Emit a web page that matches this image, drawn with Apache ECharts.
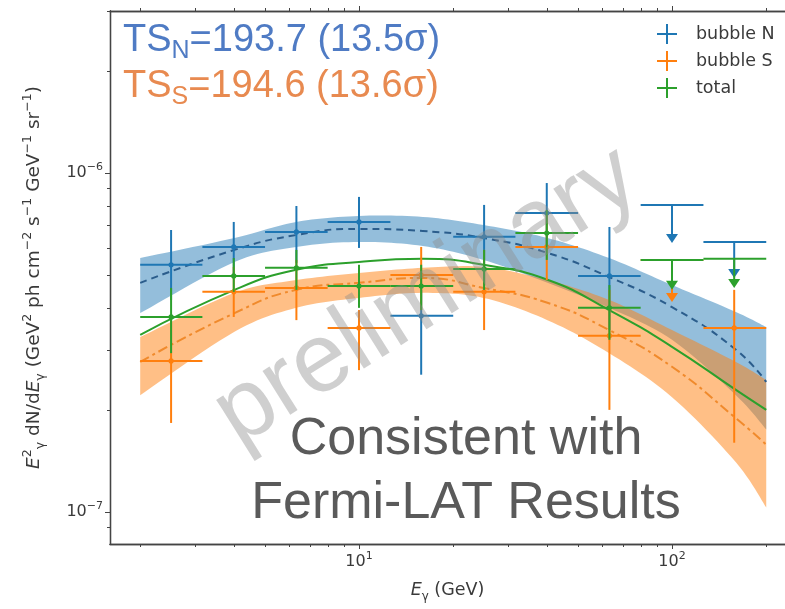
<!DOCTYPE html>
<html><head><meta charset="utf-8">
<script src="https://cdn.jsdelivr.net/npm/echarts@6/dist/echarts.min.js"></script>
<style>html,body{margin:0;padding:0;background:#fff}#c{width:785px;height:609px}</style>
</head><body><div id="c"></div>
<script>
// ---- energy bins (GeV) ----
const binCenter = [2.51, 3.98, 6.31, 10, 15.8, 25.1, 39.8, 63.1, 100, 158];
const binLo     = [2, 3.16, 5.01, 7.94, 12.6, 20, 31.6, 50.1, 79.4, 126];
const binHi     = [3.16, 5.01, 7.94, 12.6, 20, 31.6, 50.1, 79.4, 126, 200];

// ---- bubble N ----
const nFlux  = [5.36e-7, 6.05e-7, 6.70e-7, 7.17e-7, 3.79e-7, 6.48e-7, 7.62e-7, 4.97e-7, 8.05e-7, 6.26e-7];
const nErrLo = [4.22e-7, 4.93e-7, 5.43e-7, 6.01e-7, 2.54e-7, 4.67e-7, 5.73e-7, 3.44e-7, null, null];
const nErrHi = [6.79e-7, 7.17e-7, 7.99e-7, 8.50e-7, 4.52e-7, 8.05e-7, 9.34e-7, 6.93e-7, null, null];
const nLimTo = [null, null, null, null, null, null, null, null, 6.22e-7, 4.90e-7];

// ---- bubble S ----
const sFlux  = [2.79e-7, 4.46e-7, 4.58e-7, 3.49e-7, 5.00e-7, 4.46e-7, 6.05e-7, 3.31e-7, 5.54e-7, 3.49e-7];
const sErrLo = [1.83e-7, 3.76e-7, 3.68e-7, 2.62e-7, 3.94e-7, 3.44e-7, 4.83e-7, 2.00e-7, null, 1.60e-7];
const sErrHi = [3.68e-7, 5.28e-7, 5.54e-7, 3.94e-7, 6.05e-7, 5.93e-7, 7.52e-7, 4.52e-7, null, 4.52e-7];
const sLimTo = [null, null, null, null, null, null, null, null, 4.16e-7, null];

// ---- total ----
const tFlux  = [3.76e-7, 4.97e-7, 5.25e-7, 4.64e-7, 4.64e-7, 5.21e-7, 6.65e-7, 4.00e-7, 5.54e-7, 5.58e-7];
const tErrLo = [2.94e-7, 4.46e-7, 4.52e-7, 4.00e-7, 3.94e-7, 4.52e-7, 5.54e-7, 3.22e-7, null, null];
const tErrHi = [4.58e-7, 5.61e-7, 5.93e-7, 5.36e-7, 5.36e-7, 5.93e-7, 7.78e-7, 4.67e-7, null, null];
const tLimTo = [null, null, null, null, null, null, null, null, 4.52e-7, 4.58e-7];

// ---- model curves and bands ----
const modelE     = [2, 4, 6.3, 10, 16, 25, 40, 63, 100, 160, 200];
const nBandUpper = [5.61e-7, 6.43e-7, 7.17e-7, 7.47e-7, 7.42e-7, 7.02e-7, 6.43e-7, 5.61e-7, 4.67e-7, 3.89e-7, 3.51e-7];
const nBandLower = [3.86e-7, 5.46e-7, 6.05e-7, 6.26e-7, 6.09e-7, 5.54e-7, 4.74e-7, 4.00e-7, 3.22e-7, 2.21e-7, 1.75e-7];
const nModel     = [4.74e-7, 5.93e-7, 6.56e-7, 6.84e-7, 6.74e-7, 6.43e-7, 5.81e-7, 4.93e-7, 4.02e-7, 3.01e-7, 2.42e-7];
const sBandUpper = [3.28e-7, 4.43e-7, 4.83e-7, 5.07e-7, 5.25e-7, 5.28e-7, 4.83e-7, 4.22e-7, 3.44e-7, 2.77e-7, 2.45e-7];
const sBandLower = [2.21e-7, 3.40e-7, 4.00e-7, 4.28e-7, 4.43e-7, 4.28e-7, 3.68e-7, 2.94e-7, 2.18e-7, 1.40e-7, 1.03e-7];
const sModel     = [2.77e-7, 3.86e-7, 4.52e-7, 4.74e-7, 4.90e-7, 4.58e-7, 4.14e-7, 3.44e-7, 2.68e-7, 1.89e-7, 1.58e-7];
const tModel     = [3.33e-7, 4.52e-7, 5.18e-7, 5.46e-7, 5.58e-7, 5.36e-7, 4.84e-7, 3.94e-7, 3.07e-7, 2.29e-7, 2.00e-7];

// ---- ticks ----
const xMajorTicks = [10, 100];
const xMinorTicks = [2, 3, 4, 5, 6, 7, 8, 9, 20, 30, 40, 50, 60, 70, 80, 90, 200];
const yMajorTicks = [1e-7, 1e-6];
const yMinorTicks = [9e-8, 2e-7, 3e-7, 4e-7, 5e-7, 6e-7, 7e-7, 8e-7, 9e-7, 2e-6, 3e-6];

const seriesNames = ['bubble N', 'bubble S', 'total'];

const C_BLUE = '#1f77b4', C_ORANGE = '#ff7f0e', C_GREEN = '#2ca02c';
const AX = '#444';
const FONT = 'DejaVu Sans';
const TXT = '#3a3a3a';

const supRich = {
  b: {fontFamily: FONT, fontSize: 16, color: TXT, lineHeight: 22},
  sup: {fontFamily: FONT, fontSize: 11, color: TXT, verticalAlign: 'top'}
};
function expFmt(v) {
  const e = Math.round(Math.log10(v));
  return '{b|10}{sup|' + (e < 0 ? '\u2212' + (-e) : e) + '}';
}

function xAxisDef(grid, pos, ticks, len, labels) {
  return {
    type: 'log', logBase: 10, gridIndex: grid, position: pos,
    min: 1.6015, max: 229.6,
    axisLine: {show: true, lineStyle: {color: AX, width: 1.3}},
    axisTick: {show: true, customValues: ticks, length: len, inside: false, lineStyle: {color: AX, width: 1}},
    axisLabel: labels ? {show: true, customValues: ticks, formatter: expFmt, rich: supRich, margin: 7} : {show: false},
    splitLine: {show: false}, minorTick: {show: false}
  };
}
function yAxisDef(grid, ticks, len, labels) {
  return {
    type: 'log', logBase: 10, gridIndex: grid, position: 'left',
    min: 8.04e-8, max: 3.006e-6,
    axisLine: {show: true, lineStyle: {color: AX, width: 1.3}},
    axisTick: {show: true, customValues: ticks, length: len, inside: false, lineStyle: {color: AX, width: 1}},
    axisLabel: labels ? {show: true, customValues: ticks, formatter: expFmt, rich: supRich, margin: 7} : {show: false},
    splitLine: {show: false}, minorTick: {show: false}
  };
}

function nameRich(fs) {
  return {
    it: {fontFamily: FONT, fontStyle: 'italic', fontSize: fs, color: TXT, lineHeight: fs + 7},
    sup: {fontFamily: FONT, fontSize: fs * 0.68, color: TXT, verticalAlign: 'top'},
    sub: {fontFamily: FONT, fontSize: fs * 0.68, color: TXT, verticalAlign: 'bottom'},
    n: {fontFamily: FONT, fontSize: fs, color: TXT}
  };
}

const xMain = xAxisDef(0, 'bottom', xMajorTicks, 5, true);
xMain.name = '{it|E}{sub|\u03b3}{n| (GeV)}';
xMain.nameLocation = 'middle';
xMain.nameGap = 34;
xMain.nameTextStyle = {rich: nameRich(17.5)};

const yMain = yAxisDef(0, yMajorTicks, 5, true);
yMain.name = '{it|E}{sup|2}{sub|\u03b3}{n| dN/d}{it|E}{sub|\u03b3}{n| (GeV}{sup|2}{n| ph cm}{sup|\u22122}{n| s}{sup|\u22121}{n| GeV}{sup|\u22121}{n| sr}{sup|\u22121}{n|)}';
yMain.nameLocation = 'middle';
yMain.nameGap = 63;
yMain.nameTextStyle = {rich: nameRich(18.5)};

function pairs(xs, ys) { return xs.map((x, i) => [x, ys[i]]); }

// Catmull-Rom through pixel points given by the axes
function spline(pts, steps) {
  const out = [];
  for (let i = 0; i < pts.length - 1; i++) {
    const p0 = pts[Math.max(i - 1, 0)], p1 = pts[i], p2 = pts[i + 1], p3 = pts[Math.min(i + 2, pts.length - 1)];
    for (let s = 0; s < steps; s++) {
      const t = s / steps, t2 = t * t, t3 = t2 * t;
      out.push([0, 1].map(k => 0.5 * ((2 * p1[k]) + (-p0[k] + p2[k]) * t +
        (2 * p0[k] - 5 * p1[k] + 4 * p2[k] - p3[k]) * t2 + (-p0[k] + 3 * p1[k] - 3 * p2[k] + p3[k]) * t3)));
    }
  }
  out.push(pts[pts.length - 1]);
  return out;
}

function bandSeries(lower, upper, color, opacity, z) {
  return {
    type: 'custom', xAxisIndex: 0, yAxisIndex: 0, z: z, silent: true,
    encode: {x: 0, y: 1},
    data: [[modelE[0], lower[0]]],
    renderItem(params, api) {
      const up = modelE.map((e, i) => api.coord([e, upper[i]]));
      const lo = modelE.map((e, i) => api.coord([e, lower[i]]));
      const pts = spline(up, 12).concat(spline(lo, 12).reverse());
      return {type: 'polygon', shape: {points: pts}, style: {fill: color, opacity: opacity}};
    }
  };
}
function modelSeries(vals, color, type, width, z) {
  return {type: 'line', xAxisIndex: 0, yAxisIndex: 0, data: pairs(modelE, vals), smooth: true,
          symbol: 'none', silent: true, lineStyle: {color: color, type: type, width: width}, z: z};
}
function errSeries(name, color, flux, lo, hi, lim, z) {
  const data = binCenter.map((c, i) => [c, flux[i], binLo[i], binHi[i], lo[i] ?? 0, hi[i] ?? 0, lim[i] ?? 0]);
  return {
    name: name, type: 'custom', xAxisIndex: 0, yAxisIndex: 0, z: z,
    itemStyle: {color: color}, encode: {x: 0, y: 1}, data: data, silent: true,
    renderItem(params, api) {
      const xc = api.value(0), yv = api.value(1);
      const p = api.coord([xc, yv]);
      const pl = api.coord([api.value(2), yv]);
      const ph = api.coord([api.value(3), yv]);
      const st = {stroke: color, lineWidth: 2};
      const ch = [{type: 'line', shape: {x1: pl[0], y1: p[1], x2: ph[0], y2: p[1]}, style: st}];
      const l = api.value(6);
      if (l > 0) {
        const e = api.coord([xc, l]);
        ch.push({type: 'line', shape: {x1: p[0], y1: p[1], x2: p[0], y2: e[1] - 4}, style: st});
        ch.push({type: 'polygon', shape: {points: [[p[0] - 6, e[1] - 9], [p[0] + 6, e[1] - 9], [p[0], e[1]]]}, style: {fill: color}});
      } else {
        const a = api.coord([xc, api.value(4)]), b = api.coord([xc, api.value(5)]);
        ch.push({type: 'line', shape: {x1: p[0], y1: a[1], x2: p[0], y2: b[1]}, style: st});
        ch.push({type: 'circle', shape: {cx: p[0], cy: p[1], r: 2.6}, style: {fill: color}});
      }
      return {type: 'group', children: ch};
    }
  };
}

const option = {
  backgroundColor: '#fff',
  animation: false,
  grid: [
    {left: 110, top: 11, right: 0, bottom: 65},
    {left: 110, top: 11, right: 0, bottom: 65}
  ],
  xAxis: [
    xMain,
    xAxisDef(0, 'top', xMajorTicks, 5, false),
    xAxisDef(1, 'bottom', xMinorTicks, 3, false),
    xAxisDef(1, 'top', xMinorTicks, 3, false)
  ],
  yAxis: [
    yMain,
    yAxisDef(1, yMinorTicks, 3, false)
  ],
  legend: {
    data: seriesNames, orient: 'vertical', left: 652, top: 19,
    itemWidth: 20, itemHeight: 20, itemGap: 7, selectedMode: false,
    icon: 'path://M9,0H11V20H9Z M0,9H20V11H0Z',
    textStyle: {fontFamily: FONT, fontSize: 17.5, color: TXT, padding: [0, 0, 0, 14]}
  },
  series: [
    bandSeries(nBandLower, nBandUpper, C_BLUE, 0.48, 1),
    bandSeries(sBandLower, sBandUpper, C_ORANGE, 0.5, 1),
    modelSeries(nModel, '#2b5d8c', [7, 5], 2, 3),
    modelSeries(sModel, '#f08a2c', [10, 4, 3, 4], 2, 3),
    modelSeries(tModel, C_GREEN, 'solid', 2, 3),
    errSeries(seriesNames[0], C_BLUE, nFlux, nErrLo, nErrHi, nLimTo, 5),
    errSeries(seriesNames[1], C_ORANGE, sFlux, sErrLo, sErrHi, sLimTo, 5),
    errSeries(seriesNames[2], C_GREEN, tFlux, tErrLo, tErrHi, tLimTo, 5),
    {type: 'line', xAxisIndex: 2, yAxisIndex: 1, data: [], silent: true}
  ],
  graphic: [
    {type: 'text', left: 123, top: 22, z: 20, style: {
      text: '{a|TS}{s|N}{a|=193.7 (13.5\u03c3)}',
      rich: {a: {fontFamily: 'Liberation Sans', fontSize: 38, fill: '#4f7bc4', lineHeight: 46},
             s: {fontFamily: 'Liberation Sans', fontSize: 25, fill: '#4f7bc4', verticalAlign: 'bottom'}}
    }},
    {type: 'text', left: 123, top: 68, z: 20, style: {
      text: '{a|TS}{s|S}{a|=194.6 (13.6\u03c3)}',
      rich: {a: {fontFamily: 'Liberation Sans', fontSize: 38, fill: '#e88a50', lineHeight: 46},
             s: {fontFamily: 'Liberation Sans', fontSize: 25, fill: '#e88a50', verticalAlign: 'bottom'}}
    }},
    {type: 'text', x: 427, y: 297, rotation: 0.56, z: 30, style: {
      text: 'preliminary', fontFamily: 'Liberation Sans', fontSize: 98,
      fill: 'rgba(140,140,140,0.42)', align: 'center', verticalAlign: 'middle'
    }},
    {type: 'text', x: 466, y: 440, z: 40, style: {
      text: 'Consistent with', fontFamily: 'Liberation Sans', fontSize: 52,
      fill: '#5a5a5a', align: 'center', verticalAlign: 'middle'
    }},
    {type: 'text', x: 466, y: 504, z: 40, style: {
      text: 'Fermi-LAT Results', fontFamily: 'Liberation Sans', fontSize: 52,
      fill: '#5a5a5a', align: 'center', verticalAlign: 'middle'
    }}
  ]
};

const chart = echarts.init(document.getElementById('c'));
chart.setOption(option);
</script>
</body></html>
